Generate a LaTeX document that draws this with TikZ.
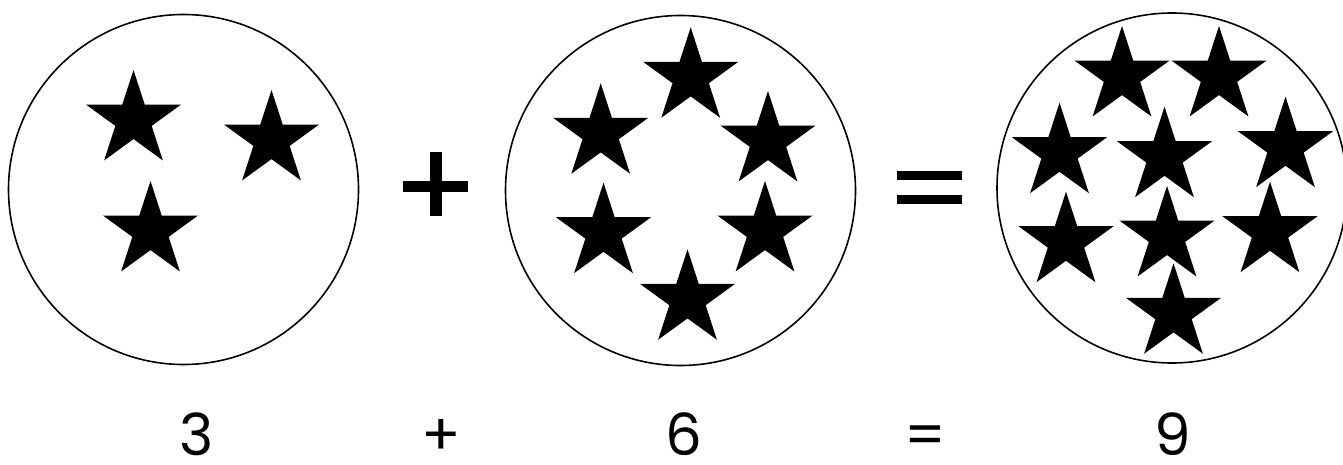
\documentclass[tikz,border=0pt]{standalone}
\usepackage{fontspec}
\setmainfont{Poppins}
\usepackage{tikz}
\usetikzlibrary{shapes.geometric, positioning}

\begin{document}
\begin{tikzpicture}[x=1pt, y=-1pt]
				% Styles
				\tikzstyle{group} = [draw, circle, line width=1.6pt, minimum size=350pt, inner sep=0pt]
				\tikzstyle{item} = [star, star points=5, star point ratio=2.618, fill=black, minimum size=100pt, inner sep=0pt, outer sep=0pt]
				\tikzstyle{bar} = [fill=black]
				\tikzstyle{sum} = [anchor=base, inner sep=0pt, font=\fontsize{58}{60}\selectfont]

				\useasboundingbox (0,0) rectangle (1343,465);

				% Groups
				\node (groupA) [group] at (183.5, 189.5) {};
				\node (groupB) [group] at (680.5, 190.5) {};
				\node (groupC) [group] at (1172, 188) {};

				% Stars of the first group
				\node (a1) [item] at (133.5, 120) {};
				\node (a2) [item] at (271.5, 140) {};
				\node (a3) [item] at (150.5, 231) {};

				% Stars of the second group
				\node (b1) [item] at (690.7, 77.3) {};
				\node (b2) [item] at (600.7, 133.3) {};
				\node (b3) [item] at (768, 141) {};
				\node (b4) [item] at (603.5, 232.7) {};
				\node (b5) [item] at (765, 231) {};
				\node (b6) [item] at (687.5, 299.3) {};

				% Stars of the third group
				\node (c1) [item] at (1122, 76) {};
				\node (c2) [item] at (1219, 76) {};
				\node (c3) [item] at (1059.5, 152.7) {};
				\node (c4) [item] at (1164.5, 156.7) {};
				\node (c5) [item] at (1285.5, 146.7) {};
				\node (c6) [item] at (1066, 241.7) {};
				\node (c7) [item] at (1167, 236) {};
				\node (c8) [item] at (1270, 231.7) {};
				\node (c9) [item] at (1173.5, 313.3) {};

				% Big plus and equals signs
				\fill [bar] (430, 151.7) rectangle (441.7, 216);
				\fill [bar] (403.3, 181) rectangle (468.3, 191.7);
				\fill [bar] (896.7, 170.7) rectangle (961.7, 180.3);
				\fill [bar] (896.7, 195) rectangle (961.7, 204.3);

				% Sum written below
				\node (three) [sum] at (197, 455) {3};
				\node (plus) [sum] at (441, 455) {+};
				\node (six) [sum] at (684, 455) {6};
				\node (equals) [sum] at (925, 455) {=};
				\node (nine) [sum] at (1173, 455) {9};

			\end{tikzpicture}
\end{document}
